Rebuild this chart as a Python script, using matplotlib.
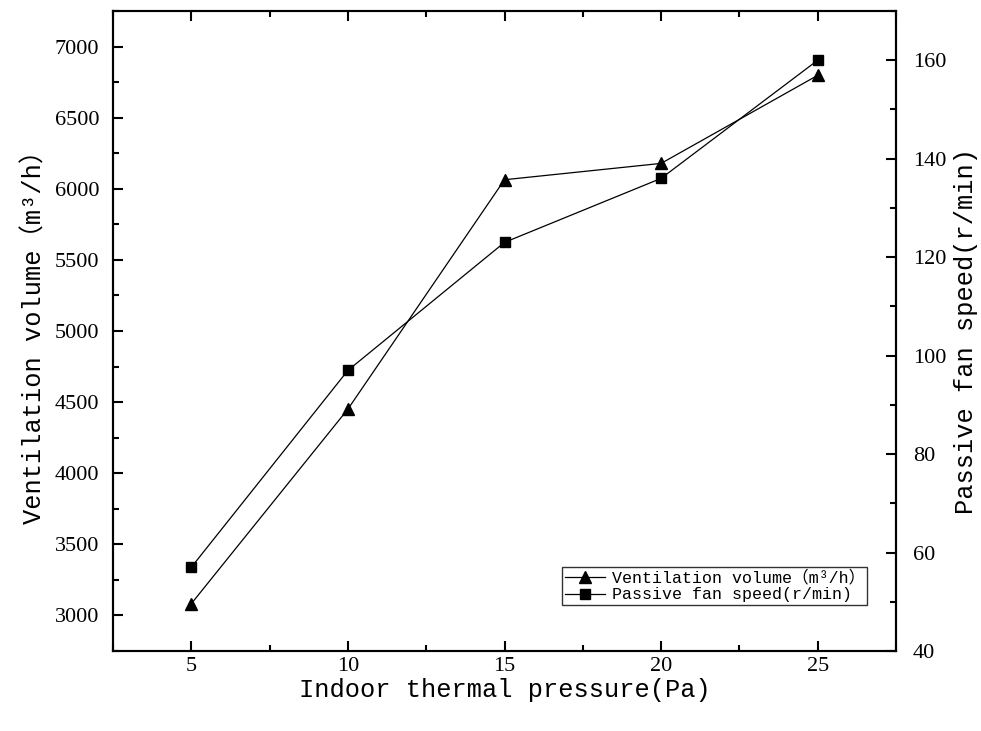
import matplotlib
matplotlib.use('Agg')
import matplotlib.pyplot as plt
from matplotlib.ticker import MultipleLocator

plt.rcParams['font.family'] = ['Liberation Mono', 'Noto Sans CJK SC', 'DejaVu Sans']

# data
pressure = [5, 10, 15, 20, 25]
ventilation = [3080, 4450, 6065, 6180, 6800]
fan_speed = [57, 97, 123, 136, 160]

fig = plt.figure(figsize=(9.81, 7.31), dpi=100)
ax = fig.add_axes([113 / 981, 80 / 731, 783 / 981, 640 / 731])
ax2 = ax.twinx()

l1, = ax.plot(pressure, ventilation, color='black', lw=0.9, marker='^', markersize=9,
              label='Ventilation volume（m³/h）')
l2, = ax2.plot(pressure, fan_speed, color='black', lw=0.9, marker='s', markersize=7,
               label='Passive fan speed(r/min)')

ax.set_xlim(2.5, 27.5)
ax.set_ylim(2747, 7253)
ax2.set_ylim(40, 170)

ax.xaxis.set_major_locator(MultipleLocator(5))
ax.xaxis.set_minor_locator(MultipleLocator(2.5))
ax.yaxis.set_major_locator(MultipleLocator(500))
ax.yaxis.set_minor_locator(MultipleLocator(250))
ax2.yaxis.set_major_locator(MultipleLocator(20))
ax2.yaxis.set_minor_locator(MultipleLocator(10))

ax.tick_params(which='both', direction='in', top=True, width=1.5)
ax.tick_params(which='major', length=7)
ax.tick_params(which='minor', length=4)
ax.tick_params(axis='y', which='both', right=False, pad=10)
ax.tick_params(axis='x', pad=4)
ax2.tick_params(which='both', direction='in', width=1.5, pad=12)
ax2.tick_params(which='major', length=7)
ax2.tick_params(which='minor', length=4)

# tick numbers in a serif face
for lab in ax.get_xticklabels() + ax.get_yticklabels() + ax2.get_yticklabels():
    lab.set_fontfamily('Liberation Serif')
    lab.set_fontsize(16)

for sp in ax.spines.values():
    sp.set_linewidth(1.5)
for sp in ax2.spines.values():
    sp.set_linewidth(1.5)

ax.set_xlabel('Indoor thermal pressure(Pa)', fontsize=18.3, labelpad=2)
ax.set_ylabel('Ventilation volume（m³/h）', fontsize=18.3, labelpad=6)
ax2.set_ylabel('Passive fan speed(r/min)', fontsize=18.3, labelpad=6)

leg = ax2.legend(handles=[l1, l2], loc='lower left', bbox_to_anchor=(0.574, 0.072),
                 fontsize=12, frameon=True, fancybox=False, edgecolor='black',
                 handlelength=2.4, handletextpad=0.4, borderpad=0.15, labelspacing=0.1,
                 borderaxespad=0)
leg.get_frame().set_linewidth(1.0)

fig.savefig('out.png', dpi=100)
